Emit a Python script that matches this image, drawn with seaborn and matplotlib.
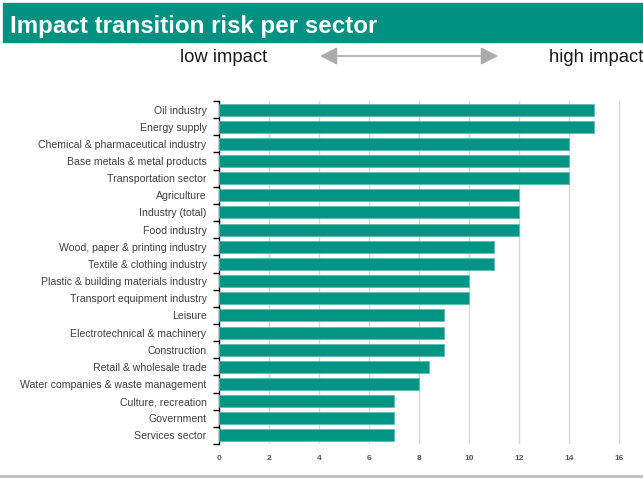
import matplotlib
matplotlib.use("Agg")
import matplotlib.pyplot as plt
from matplotlib.patches import Rectangle, FancyArrowPatch
from matplotlib.ticker import FixedLocator
import numpy as np
import pandas as pd
import seaborn as sns

sectors = [
    "Oil industry", "Energy supply", "Chemical & pharmaceutical industry",
    "Base metals & metal products", "Transportation sector", "Agriculture",
    "Industry (total)", "Food industry", "Wood, paper & printing industry",
    "Textile & clothing industry", "Plastic & building materials industry",
    "Transport equipment industry", "Leisure", "Electrotechnical & machinery",
    "Construction", "Retail & wholesale trade",
    "Water companies & waste management", "Culture, recreation",
    "Government", "Services sector",
]
impact = [15, 15, 14, 14, 14, 12, 12, 12, 11, 11, 10, 10, 9, 9, 9, 8.4, 8, 7, 7, 7]
x_ticks = [0, 2, 4, 6, 8, 10, 12, 14, 16]

TEAL = "#009485"
TITLE_TEAL = "#009183"

df = pd.DataFrame({"sector": sectors, "impact": impact})

sns.set_style("white")
plt.rcParams["font.family"] = ["Liberation Sans", "DejaVu Sans"]

W, H = 643, 478
fig = plt.figure(figsize=(W / 100, H / 100), dpi=100)

# header band with title
fig.patches.append(Rectangle((3 / W, 1 - 42 / H), 1 - 3 / W, 39 / H,
                             transform=fig.transFigure, color=TITLE_TEAL, zorder=0))
fig.text(10 / W, 1 - 33 / H, "Impact transition risk per sector", color="white",
         fontsize=17.4, fontweight="bold", va="baseline", ha="left")

# low / high impact scale indicator
fig.text(223.5 / W, 1 - 57 / H, "low impact", fontsize=13.3, color="#1a1a1a",
         ha="center", va="center")
fig.text(643 / W, 1 - 57 / H, "high impact", fontsize=13.3, color="#1a1a1a",
         ha="right", va="center")
fig.patches.append(FancyArrowPatch(
    (320 / W, 1 - 56 / H), (498 / W, 1 - 56 / H), transform=fig.transFigure,
    arrowstyle="<|-|>,head_length=10.5,head_width=5.4", color="#ababab", lw=1.2,
    shrinkA=0, shrinkB=0))

# bottom separator line
fig.add_artist(plt.Line2D([0, 1], [1 - 476 / H, 1 - 476 / H],
                          transform=fig.transFigure, color="#c0c0c0", lw=2))

ax = fig.add_axes([219 / W, 1 - 444 / H, 418 / W, 343 / H])
sns.barplot(data=df, x="impact", y="sector", orient="h", color=TEAL,
            saturation=1, width=0.7, edgecolor="#5fbcb2", linewidth=0.6,
            ax=ax, zorder=3)

ax.set_xlim(0, 16.7)
ax.set_ylim(len(sectors) - 0.5, -0.5)
ax.set_xticks(x_ticks)
ax.set_xticklabels([str(t) for t in x_ticks], fontsize=6, fontweight="bold",
                   color="#595959")
ax.tick_params(axis="x", length=0, pad=8)
ax.grid(axis="x", color="#d9d9d9", lw=1, zorder=0)
ax.set_axisbelow(True)
ax.set_xlabel("")
ax.set_ylabel("")

ax.tick_params(axis="y", which="major", length=0, pad=9, labelsize=7.6,
               labelcolor="#404040")
ax.yaxis.set_minor_locator(FixedLocator(np.arange(-0.5, len(sectors), 1.0)))
ax.tick_params(axis="y", which="minor", length=4, width=1, color="black", left=True)

for s in ["top", "right", "bottom"]:
    ax.spines[s].set_visible(False)
ax.spines["left"].set_color("black")
ax.spines["left"].set_linewidth(1)

fig.savefig("out.png", dpi=100)
